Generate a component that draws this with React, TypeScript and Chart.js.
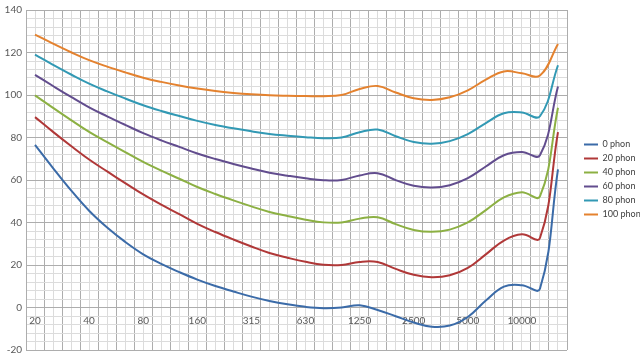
import React, { useEffect, useRef } from "react";
import { Chart, registerables } from "chart.js";

Chart.register(...registerables);

const frequencies = ["20", "25", "31.5", "40", "50", "63", "80", "100", "125", "160", "200", "250", "315", "400", "500", "630", "800", "1000", "1250", "1600", "2000", "2500", "3150", "4000", "5000", "6300", "8000", "10000", "12500", "16000"];

const phon0 = [76.55, 65.62, 55.12, 45.53, 37.63, 30.86, 25.02, 20.51, 16.65, 13.12, 10.09, 7.54, 5.11, 3.06, 1.48, 0.3, -0.3, -0.01, 1.03, -1.19, -4.11, -7.05, -9.03, -8.49, -4.48, 3.28, 9.83, 10.48, 8.8, 65];
const phon20 = [89.58, 82.65, 75.98, 69.62, 64.02, 58.55, 53.19, 48.38, 43.94, 39.37, 35.51, 31.99, 28.69, 25.67, 23.43, 21.48, 20.1, 20.01, 21.46, 21.4, 18.15, 15.38, 14.26, 15.14, 18.63, 25.02, 31.52, 34.43, 32.7, 82.5];
const phon40 = [99.85, 93.94, 88.17, 82.63, 77.78, 73.08, 68.48, 64.37, 60.59, 56.7, 53.41, 50.4, 47.58, 44.98, 43.05, 41.34, 40.06, 40.01, 41.82, 42.51, 39.23, 36.51, 35.61, 36.65, 40.01, 45.83, 51.8, 54.28, 52.3, 94];
const phon60 = [109.51, 104.23, 99.08, 94.18, 89.96, 85.94, 82.05, 78.65, 75.56, 72.47, 69.86, 67.53, 65.39, 63.45, 62.05, 60.81, 59.89, 60.01, 62.15, 63.19, 59.96, 57.26, 56.42, 57.57, 60.89, 66.36, 71.66, 73.16, 71.6, 104];
const phon80 = [118.99, 114.23, 109.65, 105.34, 101.72, 98.36, 95.17, 92.48, 90.09, 87.82, 85.92, 84.31, 82.89, 81.68, 80.86, 80.17, 79.67, 80.01, 82.48, 83.74, 80.59, 77.88, 77.07, 78.31, 81.62, 86.81, 91.41, 91.74, 90.0, 114];
const phon100 = [128.41, 124.15, 120.11, 116.38, 113.35, 110.65, 108.16, 106.17, 104.48, 103.03, 101.85, 100.97, 100.3, 99.83, 99.62, 99.5, 99.44, 100.01, 102.81, 104.25, 101.18, 98.48, 97.67, 98.91, 102.22, 107.23, 111.11, 110.23, 109.2, 124];

const seriesNames = ["0 phon", "20 phon", "40 phon", "60 phon", "80 phon", "100 phon"];
const seriesColors = ["#3B6BA8", "#B03838", "#8CB043", "#624D8E", "#3299B4", "#E4822F"];
const seriesValues = [phon0, phon20, phon40, phon60, phon80, phon100];

const yMin = -20;
const yMax = 140;
const yMinorStep = 4;
const yMajorStep = 20;
const xLabelEvery = 3;

const MAJOR = "#ADADAD";
const MINOR = "#DCDCDC";
const TEXT = "#595959";
const FONT = "Lato, 'Open Sans', sans-serif";

export default function App() {
  const ref = useRef<HTMLCanvasElement | null>(null);

  useEffect(() => {
    if (!ref.current) return;
    const chart = new Chart(ref.current, {
      type: "line",
      data: {
        labels: frequencies,
        datasets: seriesNames.map((name, i) => ({
          label: name,
          data: seriesValues[i],
          borderColor: seriesColors[i],
          backgroundColor: seriesColors[i],
          borderWidth: 2,
          pointRadius: 0,
          pointHoverRadius: 0,
          tension: 0.4,
          fill: false,
        })),
      },
      options: {
        animation: false,
        responsive: false,
        maintainAspectRatio: false,
        layout: { padding: { top: 6, bottom: 7, left: 0, right: 0 } },
        plugins: {
          tooltip: { enabled: false },
          legend: {
            position: "right",
            maxWidth: 61,
            labels: {
              usePointStyle: true,
              pointStyle: "line",
              pointStyleWidth: 14,
              padding: 5,
              color: "#404040",
              font: { family: FONT, size: 9 },
            },
          },
        },
        scales: {
          x: {
            type: "category",
            position: { y: 0 } as any,
            offset: true,
            grid: { offset: true, color: MAJOR, drawTicks: false, lineWidth: 1 },
            border: { display: true, color: MAJOR },
            ticks: {
              autoSkip: false,
              maxRotation: 0,
              minRotation: 0,
              padding: 7,
              color: TEXT,
              font: { family: FONT, size: 10 },
              callback: function (this: any, value: any, index: number) {
                return index % xLabelEvery === 0 ? this.getLabelForValue(value) : "";
              },
            },
          },
          x2: {
            type: "category",
            position: "bottom",
            offset: true,
            grid: { offset: false, color: MINOR, drawTicks: false },
            border: { display: false },
            ticks: { display: false },
          },
          y: {
            type: "linear",
            position: "left",
            min: yMin,
            max: yMax,
            afterFit: (s: any) => {
              s.width = 26;
            },
            grid: {
              drawTicks: false,
              color: (ctx: any) => (ctx.tick && ctx.tick.value % yMajorStep === 0 ? MAJOR : MINOR),
            },
            border: { display: true, color: MAJOR },
            ticks: {
              stepSize: yMinorStep,
              autoSkip: false,
              padding: 4,
              color: TEXT,
              font: { family: FONT, size: 10 },
              callback: (v: any) => (Number(v) % yMajorStep === 0 ? String(v) : ""),
            },
          },
          gap: {
            type: "linear",
            position: "right",
            display: true,
            grid: { display: false, drawTicks: false },
            border: { display: false },
            ticks: { display: false },
            afterFit: (s: any) => {
              s.width = 12;
            },
          },
        },
      },
    });
    return () => chart.destroy();
  }, []);

  return (
    <div style={{ position: "fixed", left: 0, top: 0, width: 640, height: 360, background: "#fff" }}>
      <canvas ref={ref} width={640} height={360} style={{ display: "block" }} />
    </div>
  );
}
